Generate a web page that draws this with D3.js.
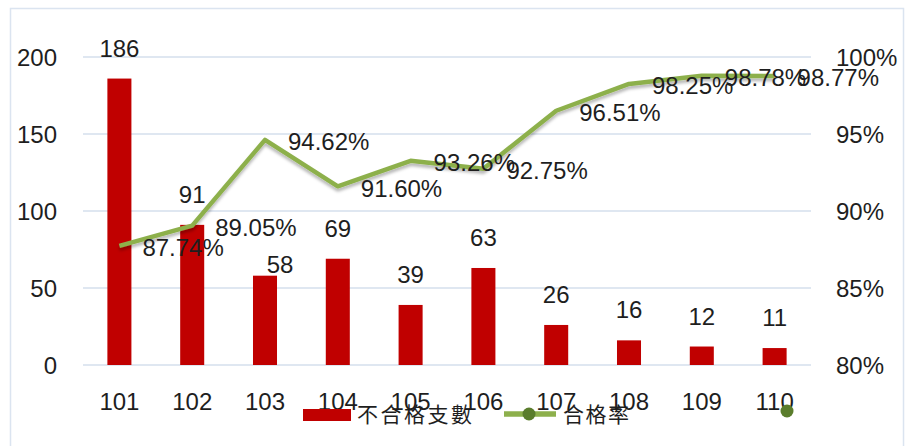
<!DOCTYPE html>
<html><head><meta charset="utf-8">
<script src="https://cdn.jsdelivr.net/npm/d3@7/dist/d3.min.js"></script>
<style>
html,body{margin:0;padding:0;background:#fff;}
svg{display:block;}
text{font-family:"Liberation Sans",Arial,sans-serif;fill:#1e1e1e;}
.cjk{font-family:"Noto Sans CJK TC","Noto Sans CJK SC",sans-serif;}
</style></head>
<body>
<svg id="c" width="914" height="446"></svg>
<script>
// ---- data ----
const years = ["101","102","103","104","105","106","107","108","109","110"];
const counts = [186, 91, 58, 69, 39, 63, 26, 16, 12, 11];
const rates = [87.74, 89.05, 94.62, 91.60, 93.26, 92.75, 96.51, 98.25, 98.78, 98.77];
const leftTicks = [0, 50, 100, 150, 200];
const rightTicks = [80, 85, 90, 95, 100];
const seriesNames = ["不合格支數", "合格率"];

// ---- layout ----
const W = 914, H = 446;
const plot = {l: 83, r: 811, t: 57, b: 365};
const svg = d3.select("#c");

const x = d3.scaleBand().domain(years).range([plot.l, plot.r]).paddingInner(0.67).paddingOuter(0.335);
const yL = d3.scaleLinear().domain([0, 200]).range([plot.b, plot.t]);
const yR = d3.scaleLinear().domain([80, 100]).range([plot.b, plot.t]);
const cx = d => x(d) + x.bandwidth() / 2;

const defs = svg.append("defs");
const f = defs.append("filter").attr("id","sh").attr("x","-5%").attr("y","-20%").attr("width","110%").attr("height","160%");
f.append("feDropShadow").attr("dx",0).attr("dy",3).attr("stdDeviation",1.6).attr("flood-color","#000").attr("flood-opacity",0.28);

// outer frame
svg.append("rect").attr("x",10.5).attr("y",8.5).attr("width",893).attr("height",460)
  .attr("fill","none").attr("stroke","#dbe4f0").attr("stroke-width",1.5);

// gridlines
svg.append("g").selectAll("line").data(leftTicks).join("line")
  .attr("x1",plot.l).attr("x2",plot.r)
  .attr("y1",d=>yL(d)).attr("y2",d=>yL(d))
  .attr("stroke","#d5dfed").attr("stroke-width",1.5);

// left axis
const axL = svg.append("g").attr("transform",`translate(${57},0)`)
  .call(d3.axisLeft(yL).tickValues(leftTicks).tickSize(0).tickPadding(0));
axL.select(".domain").remove();
axL.selectAll("text").attr("font-size",24).attr("font-family","Liberation Sans, Arial").attr("fill","#1e1e1e").attr("dy","0.36em");

// right axis
const axR = svg.append("g").attr("transform",`translate(${836},0)`)
  .call(d3.axisRight(yR).tickValues(rightTicks).tickSize(0).tickPadding(0).tickFormat(d=>d+"%"));
axR.select(".domain").remove();
axR.selectAll("text").attr("font-size",24).attr("font-family","Liberation Sans, Arial").attr("fill","#1e1e1e").attr("dy","0.36em");

// x axis labels
const axX = svg.append("g").attr("transform",`translate(0,${410})`)
  .call(d3.axisBottom(x).tickSize(0).tickPadding(0));
axX.select(".domain").remove();
axX.selectAll("text").attr("font-size",24).attr("font-family","Liberation Sans, Arial").attr("fill","#1e1e1e").attr("dy",0);

// bars
svg.append("g").selectAll("rect").data(years).join("rect")
  .attr("x",d=>x(d)).attr("width",x.bandwidth())
  .attr("y",(d,i)=>yL(counts[i])).attr("height",(d,i)=>yL(0)-yL(counts[i]))
  .attr("fill","#c00000");

// bar labels (the 103 label sits moved, as in the source)
svg.append("g").selectAll("text").data(years).join("text")
  .attr("x",(d,i)=>cx(d) + (d==="103"?15:0))
  .attr("y",(d,i)=>yL(counts[i]) - (d==="103"?3:22))
  .attr("text-anchor","middle").attr("font-size",24)
  .text((d,i)=>counts[i]);

// line
const line = d3.line().x(d=>cx(d.y)).y(d=>yR(d.r));
const pts = years.map((y,i)=>({y, r: rates[i]}));
svg.append("path").datum(pts).attr("d",line)
  .attr("fill","none").attr("stroke","#8db04c").attr("stroke-width",4.5)
  .attr("stroke-linejoin","round").attr("filter","url(#sh)");

// line labels
svg.append("g").selectAll("text").data(pts).join("text")
  .attr("x",d=>cx(d.y)+23).attr("y",d=>yR(d.r)+10.5)
  .attr("font-size",24)
  .text(d=>d.r.toFixed(2)+"%");

// legend
const lg = svg.append("g");
lg.append("rect").attr("x",303).attr("y",409).attr("width",48).attr("height",12).attr("fill","#c00000");
lg.append("text").attr("class","cjk").attr("x",357).attr("y",422).attr("font-size",21).attr("letter-spacing",2.5).text(seriesNames[0]);
lg.append("line").attr("x1",504).attr("x2",556).attr("y1",414).attr("y2",414).attr("stroke","#8db04c").attr("stroke-width",5.5);
lg.append("circle").attr("cx",529).attr("cy",414).attr("r",6.5).attr("fill","#5a7d2c");
lg.append("text").attr("class","cjk").attr("x",563).attr("y",422).attr("font-size",21).attr("letter-spacing",1.5).text(seriesNames[1]);

// stray marker seen near the last label
svg.append("circle").attr("cx",787).attr("cy",411).attr("r",6.5).attr("fill","#5a7d2c");
</script>
</body></html>
